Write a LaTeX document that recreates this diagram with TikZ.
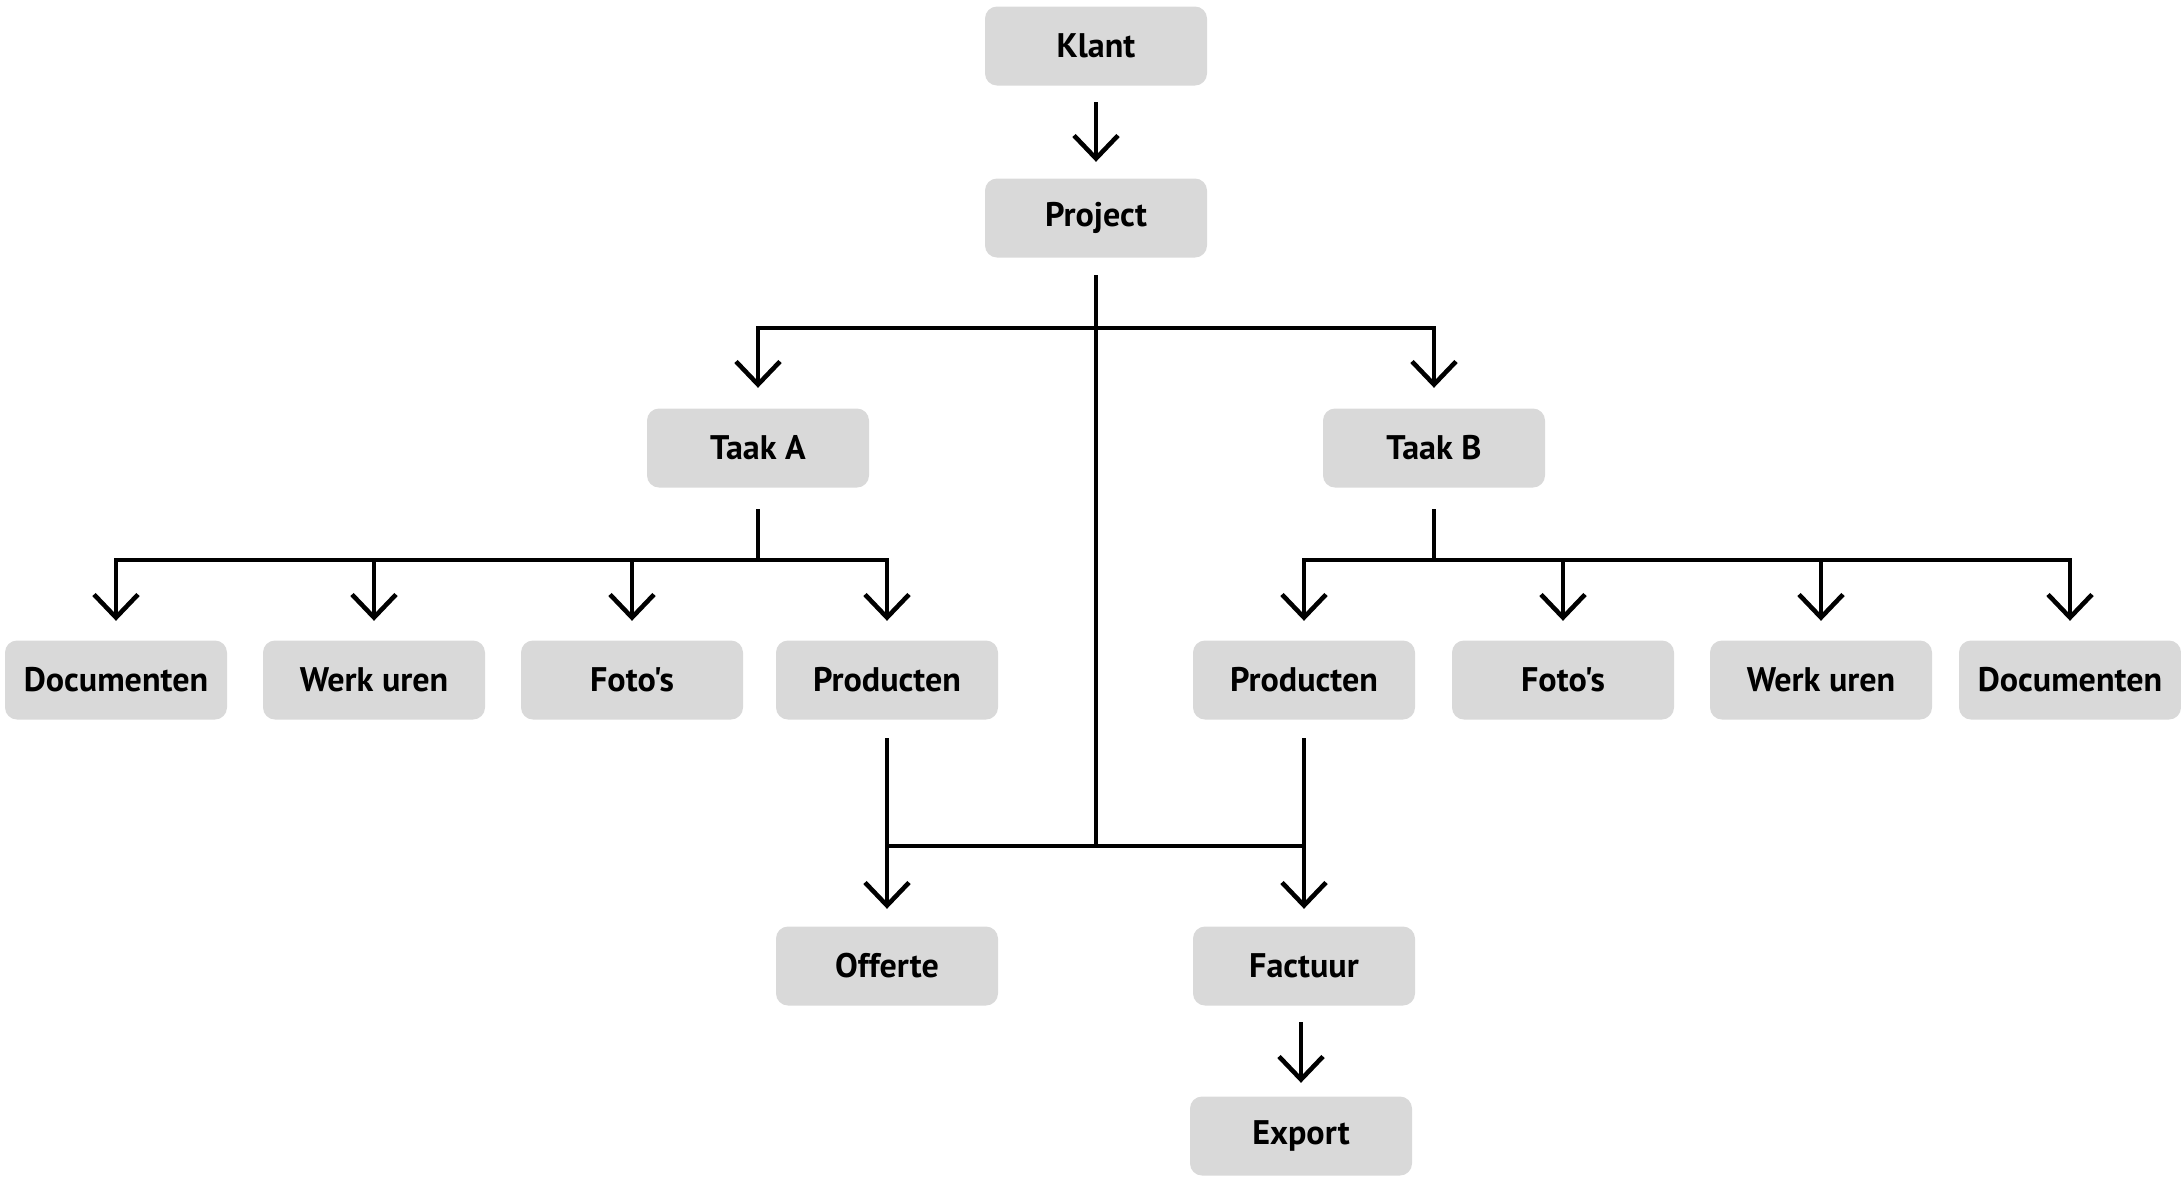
\documentclass[tikz,border=0pt]{standalone}
\usepackage{fontspec}
\setmainfont{PT Sans}[Ligatures=TeXOff]
\usetikzlibrary{arrows.meta}
\definecolor{boxgray}{HTML}{D9D9D9}
\tikzset{
  item/.style = {fill = boxgray, rounded corners = .12cm, minimum width = 2.22cm, minimum height = .79cm, inner sep = 0pt, font = \fontsize{9.7}{11}\selectfont\bfseries},
  conn/.style = {line width = 1.3pt, draw = black},
  arr/.style = {conn, -{Straight Barb[length = 2.3mm, width = 4.4mm, line width = 1.3pt]}}
}
\begin{document}
\begin{tikzpicture}
\useasboundingbox (0,0) rectangle (21.81,-11.77);
\node[item] (klant) at (10.96,-.46) {Klant};
\node[item] (project) at (10.96,-2.18) {Project};
\node[item] (taakA) at (7.58,-4.48) {Taak A};
\node[item] (taakB) at (14.34,-4.48) {Taak B};

\node[item] (docA) at (1.16,-6.80) {Documenten};
\node[item] (werkA) at (3.74,-6.80) {Werk uren};
\node[item] (fotoA) at (6.32,-6.80) {Foto's};
\node[item] (prodA) at (8.87,-6.80) {Producten};

\node[item] (prodB) at (13.04,-6.80) {Producten};
\node[item] (fotoB) at (15.63,-6.80) {Foto's};
\node[item] (werkB) at (18.21,-6.80) {Werk uren};
\node[item] (docB) at (20.70,-6.80) {Documenten};

\node[item] (offerte) at (8.87,-9.66) {Offerte};
\node[item] (factuur) at (13.04,-9.66) {Factuur};
\node[item] (export) at (13.01,-11.36) {Export};

\coordinate (taakbar) at (10.96,-3.28);
\coordinate (barA) at (7.58,-5.60);
\coordinate (barB) at (14.34,-5.60);
\coordinate (onder) at (10.96,-8.46);

\draw[arr, shorten <= .16cm, shorten >= .16cm] (klant) -- (project);

\draw[conn, shorten <= .17cm] (project) -- (onder);
\draw[arr, shorten >= .2cm] (taakbar) -| (taakA);
\draw[arr, shorten >= .2cm] (taakbar) -| (taakB);

\draw[conn, shorten <= .21cm] (taakA) -- (barA);
\draw[arr, shorten >= .19cm] (barA) -| (docA);
\draw[arr, shorten >= .19cm] (barA) -| (werkA);
\draw[arr, shorten >= .19cm] (barA) -| (fotoA);
\draw[arr, shorten >= .19cm] (barA) -| (prodA);

\draw[conn, shorten <= .21cm] (taakB) -- (barB);
\draw[arr, shorten >= .19cm] (barB) -| (prodB);
\draw[arr, shorten >= .19cm] (barB) -| (fotoB);
\draw[arr, shorten >= .19cm] (barB) -| (werkB);
\draw[arr, shorten >= .19cm] (barB) -| (docB);

\draw[arr, shorten <= .18cm, shorten >= .17cm] (prodA) -- (offerte);
\draw[arr, shorten <= .18cm, shorten >= .17cm] (prodB) -- (factuur);
\draw[conn] (onder -| prodA) -- (onder -| prodB);

\draw[arr, shorten <= .16cm, shorten >= .13cm] (factuur.south -| export) -- (export);
\end{tikzpicture}
\end{document}
